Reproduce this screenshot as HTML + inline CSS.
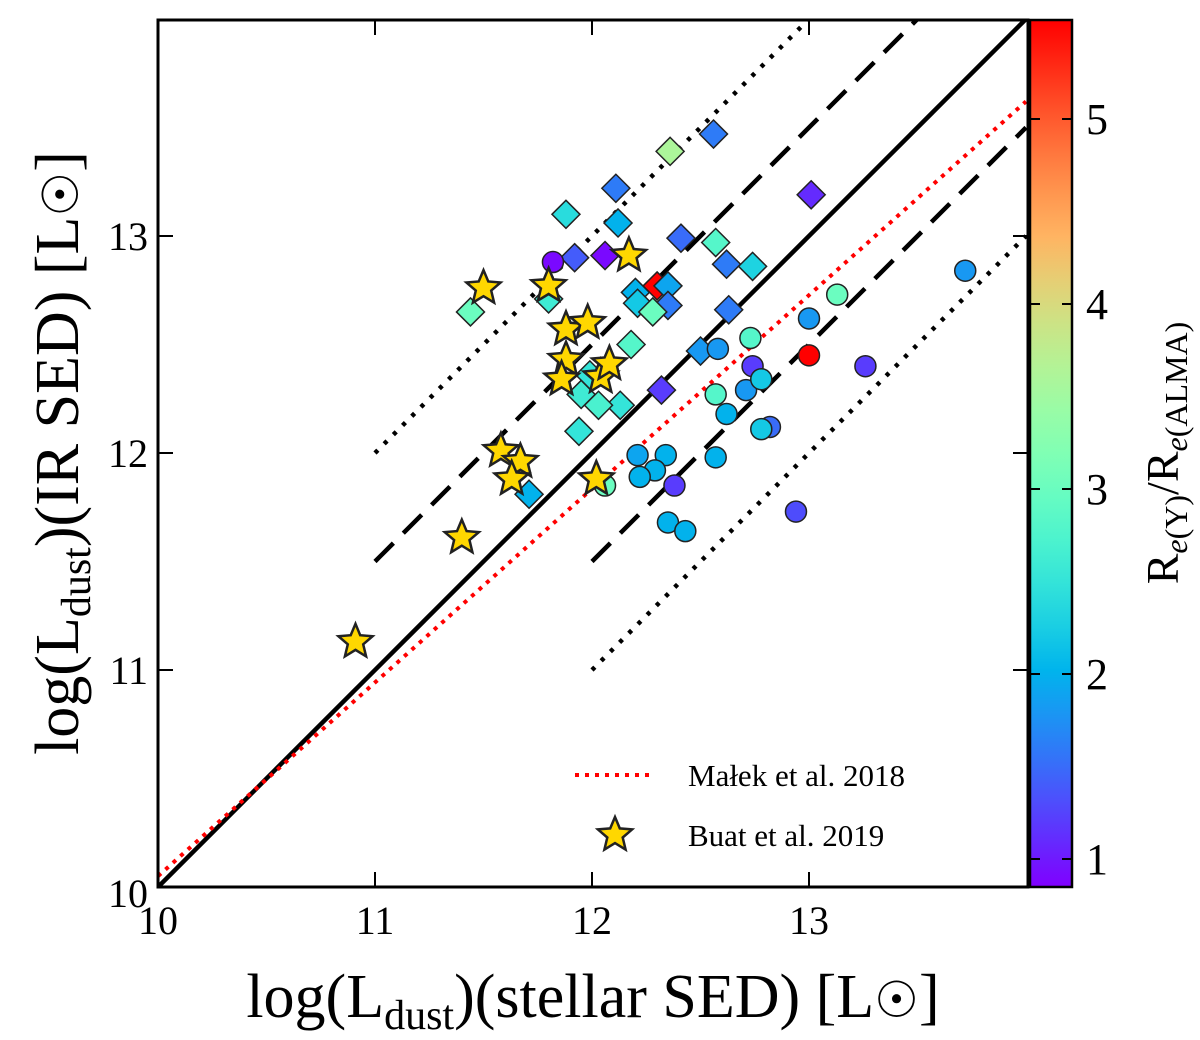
<!DOCTYPE html>
<html><head><meta charset="utf-8"><style>
body{margin:0;background:#fff}
svg text{font-family:"Liberation Serif",serif;fill:#000}
</style></head><body>
<svg id="chart" width="1200" height="1035" xmlns="http://www.w3.org/2000/svg">
<defs>
<linearGradient id="cbar" x1="0" y1="1" x2="0" y2="0"></linearGradient>
<clipPath id="plotclip"><rect x="158" y="20" width="870" height="867"/></clipPath>
</defs>
<g id="lines" clip-path="url(#plotclip)"></g>
<g id="marks"></g>
<rect x="158" y="20" width="870" height="867" fill="none" stroke="#000" stroke-width="3"/>
<g id="ticks"></g>
<rect x="1030" y="20" width="42" height="867" fill="url(#cbar)" stroke="#000" stroke-width="2.5"/>
<g id="cticks"></g>
<text x="593" y="1017" font-size="62" text-anchor="middle">log(L<tspan font-size="42" dy="12">dust</tspan><tspan dy="-12">)(stellar SED) [L</tspan><tspan font-size="50">☉</tspan>]</text>
<text transform="translate(78,453) rotate(-90)" font-size="62" text-anchor="middle">log(L<tspan font-size="42" dy="12">dust</tspan><tspan dy="-12">)(IR SED) [L</tspan><tspan font-size="50">☉</tspan>]</text>
<text transform="translate(1178,453) rotate(-90)" font-size="46" text-anchor="middle">R<tspan font-size="32" dy="9" font-style="italic">e</tspan><tspan font-size="32">(Y)</tspan><tspan dy="-9">/R</tspan><tspan font-size="32" dy="9" font-style="italic">e</tspan><tspan font-size="32">(ALMA)</tspan></text>
<g>
<line x1="575" y1="775" x2="655" y2="775" stroke="red" stroke-width="4" stroke-dasharray="4,6"/>
<text x="688" y="786" font-size="31">Małek et al. 2018</text>
<polygon id="legstar" fill="#FFD700" stroke="#222" stroke-width="2.5"/>
<text x="688" y="846" font-size="31">Buat et al. 2019</text>
</g>
</svg>
<script>
const NS="http://www.w3.org/2000/svg";
const xTicks=[10,11,12,13];
const yTicks=[10,11,12,13];
const cTicks=[1,2,3,4,5];
const diamondX=[12.36,12.56,13.01,12.11,11.88,12.12,11.92,12.06,12.41,12.57,12.30,12.62,12.74,12.20,12.35,12.35,12.63,12.21,12.28,11.44,11.80,12.18,12.50,12.32,11.99,12.13,11.94,12.03,11.95,11.71];
const diamondY=[13.39,13.47,13.19,13.22,13.10,13.06,12.90,12.91,12.99,12.97,12.77,12.87,12.86,12.74,12.77,12.68,12.66,12.69,12.65,12.65,12.71,12.50,12.47,12.29,12.36,12.22,12.10,12.22,12.27,11.81];
const diamondC=[3.6,1.6,1.1,1.6,2.4,2.0,1.4,0.9,1.5,2.8,5.6,1.6,2.3,2.0,1.9,1.6,1.6,2.2,3.0,3.0,2.6,2.8,1.8,1.2,2.5,2.5,2.5,2.7,2.6,2.0];
const circleX=[11.82,13.72,13.13,13.00,12.73,13.00,12.58,12.74,13.26,12.71,12.78,12.57,12.62,12.82,12.78,12.57,12.21,12.34,12.29,12.22,12.38,12.06,12.94,12.35,12.43];
const circleY=[12.88,12.84,12.73,12.62,12.53,12.45,12.48,12.40,12.40,12.29,12.34,12.27,12.18,12.12,12.11,11.98,11.99,11.99,11.92,11.89,11.85,11.85,11.73,11.68,11.64];
const circleC=[0.9,1.8,3.0,1.8,2.8,5.6,1.8,1.2,1.2,1.8,2.2,2.8,2.0,1.5,2.2,2.0,1.9,2.0,2.0,2.0,1.2,3.0,1.3,2.0,2.0];
const starX=[11.50,11.80,12.17,11.88,11.98,11.88,11.86,12.04,12.08,11.58,11.67,11.63,12.02,11.40,10.91];
const starY=[12.76,12.77,12.91,12.57,12.60,12.43,12.34,12.35,12.41,12.01,11.96,11.88,11.88,11.61,11.13];
const X0=158,PX=217,Y0=887;
const sx=v=>X0+(v-10)*PX, sy=v=>Y0-(v-10)*PX;
const CB0=859,CBP=185, cy=v=>CB0-(v-1)*CBP;
const CMIN=1+(CB0-887)/CBP, CMAX=1+(CB0-20)/CBP;
function cmap(v){let t=Math.max(0,Math.min(1,(v-CMIN)/(CMAX-CMIN)));
 let r=Math.min(1,Math.abs(2*t-0.5)),g=Math.sin(Math.PI*t),b=Math.max(0,Math.cos(Math.PI/2*t));
 return `rgb(${Math.round(r*255)},${Math.round(g*255)},${Math.round(b*255)})`;}
function mk(tag,attrs,parent){const e=document.createElementNS(NS,tag);for(const k in attrs)e.setAttribute(k,attrs[k]);parent.appendChild(e);return e;}
const grad=document.getElementById('cbar');
for(let i=0;i<=20;i++){mk('stop',{offset:i/20,'stop-color':cmap(CMIN+(CMAX-CMIN)*i/20)},grad);}
const L=document.getElementById('lines');
function ln(x1,y1,x2,y2,stroke,dash,name){const e=mk('line',{x1:sx(x1),y1:sy(y1),x2:sx(x2),y2:sy(y2),stroke:stroke,'stroke-width':dash==='red'?4:4.5},L);
 if(dash==='dash')e.setAttribute('stroke-dasharray','26,14');
 if(dash==='dot')e.setAttribute('stroke-dasharray','4,9');
 if(dash==='red')e.setAttribute('stroke-dasharray','4,6');
 
 }
ln(10,10,14,14,'#000','solid','one-to-one-line');
ln(11,11.5,14,14.5,'#000','dash','upper-dashed-line');
ln(12,11.5,14,13.5,'#000','dash','lower-dashed-line');
ln(11,12,13,14,'#000','dot','upper-dotted-line');
ln(12,11,14,13,'#000','dot','lower-dotted-line');
ln(10,10.05,14,13.62,'red','red','malek-2018-line');
const M=document.getElementById('marks');
function starPts(cx,cyy,R){let p=[];for(let i=0;i<10;i++){const r=i%2?R*0.45:R;const a=-Math.PI/2+i*Math.PI/5;p.push((cx+r*Math.cos(a)).toFixed(1)+','+(cyy+r*Math.sin(a)).toFixed(1));}return p.join(' ');}
for(let i=0;i<diamondX.length;i++){const x=sx(diamondX[i]),y=sy(diamondY[i]),s=14;
 const e=mk('polygon',{points:`${x},${y-s} ${x+s},${y} ${x},${y+s} ${x-s},${y}`,fill:cmap(diamondC[i]),stroke:'#222','stroke-width':1.5},M);
 
 }
for(let i=0;i<circleX.length;i++){
 const e=mk('circle',{cx:sx(circleX[i]),cy:sy(circleY[i]),r:10.5,fill:cmap(circleC[i]),stroke:'#222','stroke-width':1.5},M);
 
 }
for(let i=0;i<starX.length;i++){
 const e=mk('polygon',{points:starPts(sx(starX[i]),sy(starY[i]),18),fill:'#FFD700',stroke:'#222','stroke-width':2.5},M);
 
 }
document.getElementById('legstar').setAttribute('points',starPts(615,835,18));
const T=document.getElementById('ticks');
xTicks.forEach(v=>{const x=sx(v);
 mk('line',{x1:x,y1:887,x2:x,y2:872,stroke:'#000','stroke-width':2},T);
 mk('line',{x1:x,y1:20,x2:x,y2:35,stroke:'#000','stroke-width':2},T);
 const t=mk('text',{x:x,y:934,'font-size':40,'text-anchor':'middle'},T);t.textContent=v;
 
 });
yTicks.forEach(v=>{const y=sy(v);
 mk('line',{x1:158,y1:y,x2:173,y2:y,stroke:'#000','stroke-width':2},T);
 mk('line',{x1:1028,y1:y,x2:1013,y2:y,stroke:'#000','stroke-width':2},T);
 const t=mk('text',{x:148,y:y+(v===10?20:14),'font-size':40,'text-anchor':'end'},T);t.textContent=v;
 
 });
const C=document.getElementById('cticks');
cTicks.forEach(v=>{const y=cy(v);
 mk('line',{x1:1072,y1:y,x2:1062,y2:y,stroke:'#000','stroke-width':2},C);
 mk('line',{x1:1030,y1:y,x2:1040,y2:y,stroke:'#000','stroke-width':2},C);
 const t=mk('text',{x:1086,y:y+15,'font-size':44},C);t.textContent=v;
 
 });
</script>
</body></html>
